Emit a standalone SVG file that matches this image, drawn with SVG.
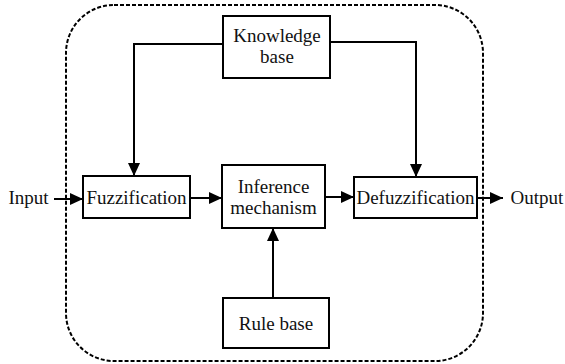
<svg xmlns="http://www.w3.org/2000/svg" width="565" height="364" viewBox="0 0 565 364">
<style>
.box{fill:#fff;stroke:#000;stroke-width:2}
.t{font-family:"Liberation Serif","Times New Roman",serif;font-size:19px;fill:#111;text-anchor:middle}
.c{fill:none;stroke:#000;stroke-width:2}
</style>
<defs>
<marker id="ah" markerUnits="userSpaceOnUse" markerWidth="14" markerHeight="12" refX="13" refY="6" orient="auto">
<path d="M0,0 L13,6 L0,12 Z" fill="#000"/>
</marker>
</defs>
<rect x="66" y="5" width="417" height="356" rx="48" ry="48" fill="none" stroke="#000" stroke-width="2" stroke-dasharray="4,2"/>
<g id="connectors">
<path class="c" d="M54,199 H83" marker-end="url(#ah)"/>
<path class="c" d="M190,198 H222" marker-end="url(#ah)"/>
<path class="c" d="M325,197 H354" marker-end="url(#ah)"/>
<path class="c" d="M477,198 H503" marker-end="url(#ah)"/>
<path class="c" d="M223,44 H134 V176" marker-end="url(#ah)"/>
<path class="c" d="M330,42 H416 V177" marker-end="url(#ah)"/>
<path class="c" d="M273,298 V228" marker-end="url(#ah)"/>
</g>
<g id="input"><text class="t" x="28.5" y="204">Input</text></g>
<g id="output"><text class="t" x="537" y="204">Output</text></g>
<g id="knowledge">
<rect class="box" x="223" y="16" width="107" height="62"/>
<text class="t" x="277" y="42">Knowledge</text>
<text class="t" x="277" y="63">base</text>
</g>
<g id="fuzzification">
<rect class="box" x="83" y="176" width="107" height="42"/>
<text class="t" x="136.5" y="204">Fuzzification</text>
</g>
<g id="inference">
<rect class="box" x="222" y="165" width="103" height="63"/>
<text class="t" x="273.5" y="193">Inference</text>
<text class="t" x="273.5" y="214">mechanism</text>
</g>
<g id="defuzzification">
<rect class="box" x="354" y="177" width="123" height="41"/>
<text class="t" x="415.5" y="204">Defuzzification</text>
</g>
<g id="rulebase">
<rect class="box" x="223" y="298" width="106" height="50"/>
<text class="t" x="276" y="330">Rule base</text>
</g>
</svg>
